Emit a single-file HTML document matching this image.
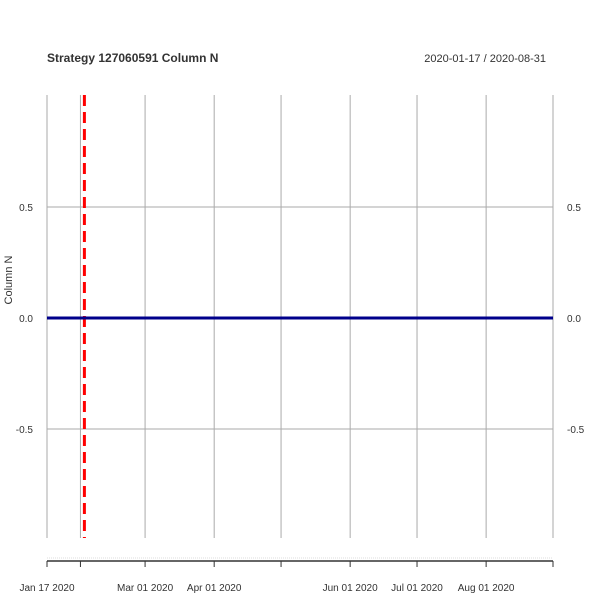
<!DOCTYPE html>
<html><head><meta charset="utf-8"><style>
body{margin:0;background:#fff}
svg text{font-family:"Liberation Sans",Arial,sans-serif;fill:#333}
</style></head><body>
<svg id="c" width="600" height="600" xmlns="http://www.w3.org/2000/svg">
<rect width="600" height="600" fill="#fff"/>
<text x="47" y="62" font-size="12" font-weight="bold">Strategy 127060591 Column N</text>
<text x="546" y="62" font-size="11" text-anchor="end">2020-01-17 / 2020-08-31</text>
<text transform="translate(12,280) rotate(-90)" font-size="11" text-anchor="middle">Column N</text>
<g id="grid"></g><g id="marks"></g><g id="axis"></g>
</svg>
<script>
const gridDates=["2020-01-17","2020-02-01","2020-03-01","2020-04-01","2020-05-01","2020-06-01","2020-07-01","2020-08-01","2020-08-31"];
const xLabels=["Jan 17 2020","","Mar 01 2020","Apr 01 2020","","Jun 01 2020","Jul 01 2020","Aug 01 2020",""];
const yTicks=[0.5,0,-0.5];
const yTickLabels=["0.5","0.0","-0.5"];
const seriesDates=["2020-01-17","2020-08-31"];
const seriesValues=[0,0];
const eventDates=["2020-02-03"];
const NS="http://www.w3.org/2000/svg";
const d0=Date.parse("2020-01-17"),d1=Date.parse("2020-08-31");
const X=d=>47+(Date.parse(d)-d0)/(d1-d0)*(553-47);
const Y=v=>318-v*222;
const pTop=95,pBot=538;
function mk(t,a,p){const e=document.createElementNS(NS,t);for(const k in a)e.setAttribute(k,a[k]);document.getElementById(p).appendChild(e);return e;}
gridDates.forEach((d,i)=>{
 const g=mk('line',{x1:X(d),x2:X(d),y1:pTop,y2:pBot,stroke:'#aaa','stroke-width':1},'grid');
 
 
 const t=mk('line',{x1:X(d),x2:X(d),y1:561,y2:567,stroke:'#333','stroke-width':1},'axis');
 
 
 if(xLabels[i]){const l=mk('text',{x:X(d),y:591,'font-size':10,'text-anchor':'middle'},'axis');l.textContent=xLabels[i];
 
 }
});
yTicks.forEach((v,i)=>{
 const g=mk('line',{x1:47,x2:553,y1:Y(v),y2:Y(v),stroke:'#aaa','stroke-width':1},'grid');
 
 
 const l=mk('text',{x:33,y:Y(v)+4,'font-size':10,'text-anchor':'end'},'axis');l.textContent=yTickLabels[i];
 
 
 const r=mk('text',{x:567,y:Y(v)+4,'font-size':10},'axis');r.textContent=yTickLabels[i];
 
 
});
const ax=mk('line',{x1:47,x2:553,y1:561,y2:561,stroke:'#333','stroke-width':1.5},'axis');


const dl=mk('line',{x1:47,x2:553,y1:558,y2:558,stroke:'#ddd','stroke-width':1,'stroke-dasharray':'1 1'},'axis');


eventDates.forEach(d=>{
 const e=mk('line',{x1:X(d)-0.5,x2:X(d)-0.5,y1:pTop,y2:pBot,stroke:'#f00','stroke-width':3,'stroke-dasharray':'11 6'},'marks');
 
 
});
const pts=seriesDates.map((d,i)=>X(d)+','+Y(seriesValues[i])).join(' ');
const s=mk('polyline',{points:pts,fill:'none',stroke:'#00008b','stroke-width':3},'marks');


</script>
</body></html>
